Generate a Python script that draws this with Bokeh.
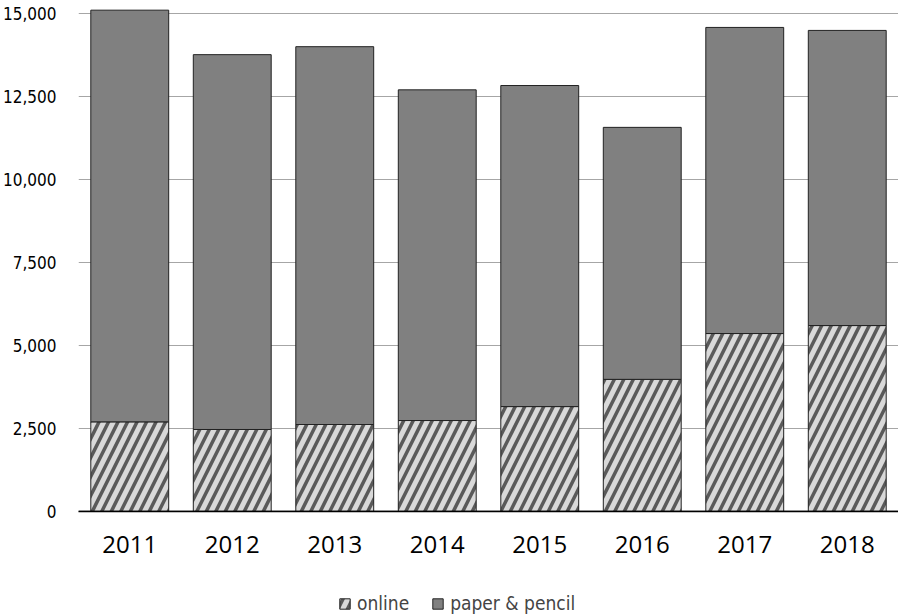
from bokeh.plotting import figure
from bokeh.models import ColumnDataSource, FixedTicker, NumeralTickFormatter, Legend, LegendItem, Range1d, Span
from bokeh.layouts import column
from bokeh.embed import file_html
from bokeh.resources import INLINE

years = ["2011", "2012", "2013", "2014", "2015", "2016", "2017", "2018"]
online = [2700, 2470, 2620, 2740, 3160, 3980, 5360, 5600]
paper = [12400, 11290, 11380, 9960, 9670, 7590, 9220, 8890]
y_ticks = [0, 2500, 5000, 7500, 10000, 12500, 15000]

total = [o + q for o, q in zip(online, paper)]
src = ColumnDataSource(dict(year=years, online=online, paper=paper, total=total))

NARROW = "DejaVu Sans Condensed"
ON_STYLE = dict(fill_color="#d9d9d9", line_color="#222222", line_width=1,
                hatch_pattern="/", hatch_color="#5a5a5a", hatch_weight=3.5, hatch_scale=19)
PA_STYLE = dict(fill_color="#808080", line_color="#222222", line_width=1)

p = figure(x_range=years, y_range=Range1d(0, 15150), width=898, height=560,
           output_backend="svg", toolbar_location=None,
           min_border_left=78, min_border_right=0, min_border_top=8, min_border_bottom=49)
p.outline_line_color = None
p.background_fill_color = "white"

r_on = p.vbar(x="year", top="online", bottom=0, width=0.76, source=src, **ON_STYLE)
r_pa = p.vbar(x="year", top="total", bottom="online", width=0.76, source=src, **PA_STYLE)

p.yaxis.ticker = FixedTicker(ticks=y_ticks)
p.yaxis.formatter = NumeralTickFormatter(format="0,0")
p.yaxis.axis_line_color = None
p.yaxis.major_tick_line_color = None
p.yaxis.minor_tick_line_color = None
p.yaxis.major_label_standoff = 16
p.yaxis.major_label_text_font = NARROW
p.yaxis.major_label_text_font_size = "17px"
p.yaxis.major_label_text_color = "black"

p.ygrid.ticker = FixedTicker(ticks=y_ticks)
p.ygrid.grid_line_color = "#a6a6a6"
p.ygrid.grid_line_width = 1
p.xgrid.grid_line_color = None

p.xaxis.axis_line_color = "black"
p.xaxis.axis_line_width = 1.5
p.xaxis.major_tick_line_color = None
p.xaxis.minor_tick_line_color = None
p.xaxis.major_label_standoff = 18
p.xaxis.major_label_text_font = "Open Sans"
p.xaxis.major_label_text_font_size = "24px"
p.xaxis.major_label_text_color = "black"

p.add_layout(Span(location=0, dimension="width", line_color="black", line_width=1.5))

# legend strip (sample glyphs placed outside the visible range)
p2 = figure(width=898, height=56, x_range=Range1d(0, 1), y_range=Range1d(0, 1),
            output_backend="svg", toolbar_location=None,
            x_axis_location=None, y_axis_location=None,
            min_border_left=0, min_border_right=0, min_border_top=0, min_border_bottom=0)
p2.outline_line_color = None
p2.xgrid.visible = False
p2.ygrid.visible = False
d_on = p2.vbar(x=[10], top=[10], bottom=[9], width=0.5, **ON_STYLE)
d_pa = p2.vbar(x=[10], top=[10], bottom=[9], width=0.5, **PA_STYLE)
legend = Legend(items=[LegendItem(label="online", renderers=[d_on]),
                       LegendItem(label="paper & pencil", renderers=[d_pa])],
                orientation="horizontal", location=(260, 2),
                label_text_font=NARROW, label_text_font_size="19px",
                glyph_width=13, glyph_height=13, spacing=22, label_standoff=6,
                border_line_color=None, background_fill_alpha=0, margin=0, padding=4)
p2.add_layout(legend, "center")

layout = column(p, p2, spacing=0)
open("out.html", "w").write(file_html(layout, INLINE))
